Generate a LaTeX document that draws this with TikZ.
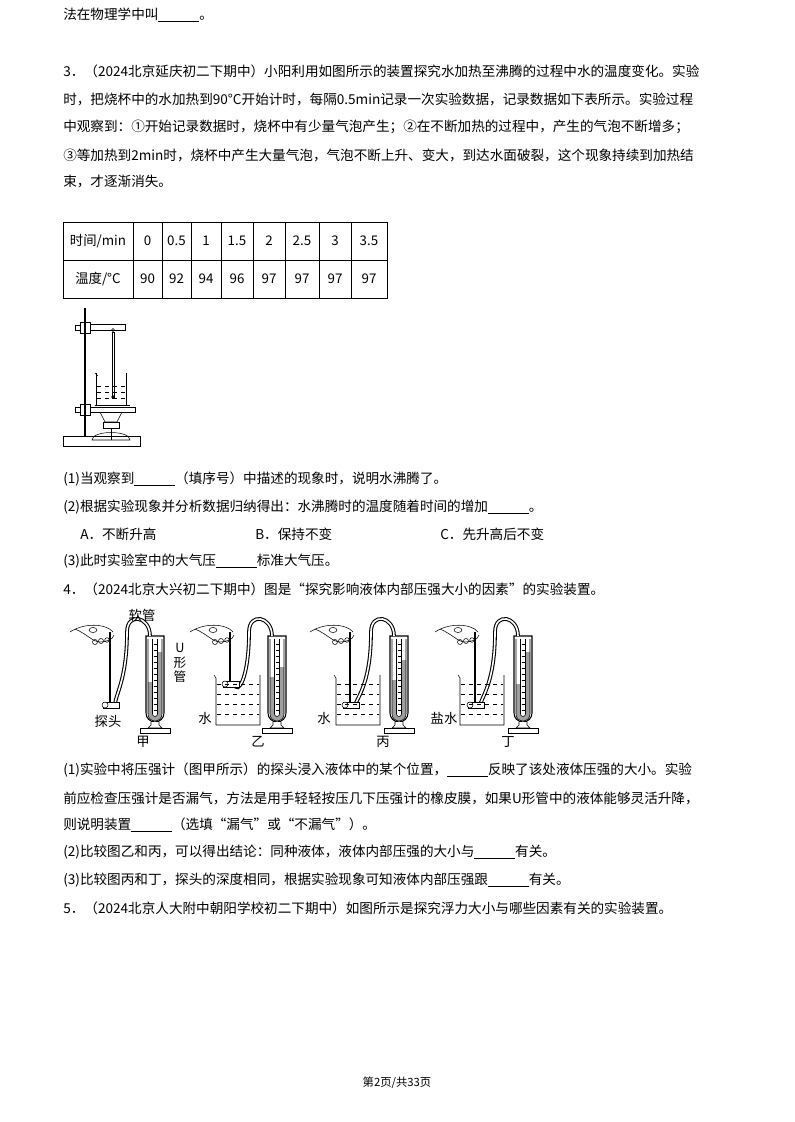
\documentclass[tikz,border=0pt]{standalone}
\usepackage{fontspec}
\setmainfont{Noto Sans CJK SC}
\begin{document}
\begin{tikzpicture}[x=0.75pt,y=-0.75pt,
  txt/.style={anchor=west,inner sep=0pt,font=\fontsize{10.2pt}{12pt}\selectfont},
  lab/.style={inner sep=0pt,font=\fontsize{10pt}{12pt}\selectfont}]
\useasboundingbox (0,0) rectangle (794,1122);
\newcommand\bl{\underline{\hspace{3em}}}
\node[txt] (l1) at (63,15) {法在物理学中叫\bl{}。};
\node[txt] (l2) at (63,71) {3．（2024北京延庆初二下期中）小阳利用如图所示的装置探究水加热至沸腾的过程中水的温度变化。实验};
\node[txt] (l3) at (63,99) {时，把烧杯中的水加热到90°C开始计时，每隔0.5min记录一次实验数据，记录数据如下表所示。实验过程};
\node[txt] (l4) at (63,127) {中观察到：①开始记录数据时，烧杯中有少量气泡产生；②在不断加热的过程中，产生的气泡不断增多；};
\node[txt] (l5) at (63,155) {③等加热到2min时，烧杯中产生大量气泡，气泡不断上升、变大，到达水面破裂，这个现象持续到加热结};
\node[txt] (l6) at (63,182) {束，才逐渐消失。};
% table
\draw[line width=0.6pt] (63,222) rectangle (387,298);
\draw[line width=0.6pt] (63,260) -- (387,260);
\foreach \x in {133,162,191,221,253,285,319,351}{\draw[line width=0.6pt] (\x,222)--(\x,298);}
\node[lab] (t0) at (98,241) {时间/min};
\node[lab] (t1) at (98,279) {温度/°C};
\foreach \a/\b/\v/\w in {133/162/0/90,162/191/0.5/92,191/221/1/94,221/253/1.5/96,253/285/2/97,285/319/2.5/97,319/351/3/97,351/387/3.5/97}{
  \node[lab] at ({(\a+\b)/2},241) {\v};
  \node[lab] at ({(\a+\b)/2},279) {\w};}
% stand figure
\draw[line width=1.2pt] (85,308) -- (85,440);
\draw[fill=white] (63,436) rectangle (140,446);
\draw (75,325) rectangle (80,330); \draw (80,322) rectangle (90,333);
\draw (90,324) rectangle (125,330);
\draw (113,330) circle (1.5);
\draw (112,332) rectangle (114,398); \fill (113,397) circle (1.8);
\draw (96,373) -- (96,405) -- (126,405) -- (126,373);
\draw (95,373) -- (98,376);
\foreach \yy in {386,392,398}{\draw[dashed] (97,\yy) -- (125,\yy);}
\draw (75,407) rectangle (80,412); \draw (80,404) rectangle (90,415);
\draw (90,407) rectangle (135,412);
\draw (95,405) -- (130,405);
\draw (100,412) -- (105,422) -- (117,422) -- (122,412);
\draw (103,422) rectangle (119,428);
\draw (92,440) .. controls (92,430) and (130,430) .. (130,440) -- cycle;
\draw (111,428) -- (111,440);
% questions
\node[txt] (q1) at (63,479) {(1)当观察到\bl{}（填序号）中描述的现象时，说明水沸腾了。};
\node[txt] (q2) at (63,507) {(2)根据实验现象并分析数据归纳得出：水沸腾时的温度随着时间的增加\bl{}。};
\node[txt] (qa) at (80,534) {A．不断升高};
\node[txt] (qb) at (255,534) {B．保持不变};
\node[txt] (qc) at (440,534) {C．先升高后不变};
\node[txt] (q3) at (63,561) {(3)此时实验室中的大气压\bl{}标准大气压。};
\node[txt] (p4) at (63,589) {4．（2024北京大兴初二下期中）图是“探究影响液体内部压强大小的因素”的实验装置。};
% gauges: #1 U centre x, #2 probe x, #3 probe y, #4 left level, #5 right level, #6 beaker left (0 none)
\newcommand\gauge[6]{
  \begin{scope}[shift={(#1,722)}]
   \draw[line width=0.8pt] (-9,-86) -- (-9,-9) arc (180:0:9) -- (9,-86) -- cycle;
   \fill[gray!75] (-7,#4) -- (-7,-8) arc (180:0:7) -- (7,#5) -- (2.5,#5) -- (2.5,-8) arc (0:180:2.5) -- (-2.5,#4) -- cycle;
   \draw (-7,-83) -- (-7,-8) arc (180:0:7) -- (7,-83);
   \draw (-2.5,-83) -- (-2.5,-8) arc (180:0:2.5) -- (2.5,-83);
   \foreach \k in {-78,-72,...,-12}{\draw[line width=0.3pt] (-1.5,\k) -- (1.5,\k);}
   \draw[fill=white] (-4,0) -- (-4,3) -- (-7,6) -- (7,6) -- (4,3) -- (4,0);
   \draw[fill=white] (-15,6) rectangle (15,11);
  \end{scope}
  \draw[line width=0.8pt,double=white,double distance=1.2pt] (#1-5,636) .. controls (#1-5,616) and (#1-28,612) .. (#1-28,632) .. controls (#1-28,680) and (#1-40,695) .. (#2+10,#3);
  \draw[fill=white] (#2-2,#3-3) rectangle (#2+14,#3+3);
  \draw[fill=white] (#2,#3) circle (3);
  \draw[line width=1pt] (#2+5,#3-2) -- (#2+5,632);
  \draw (#2+8,632) .. controls (#2+2,624) and (#2-20,622) .. (#2-35,632)
        (#2-30,629) .. controls (#2-18,634) and (#2-12,642) .. (#2-5,642)
        .. controls (#2,642) and (#2+8,640) .. (#2+9,635);
  \draw (#2-12,630) ellipse (4 and 2.5);
  \draw (#2-10,642) circle (2.5) (#2-4,641) circle (2.5) (#2+2,640) circle (2.3);
  \ifnum#6>0
   \draw (#6,675) -- (#6+2,678) -- (#6+2,725) -- (#6+46,725) -- (#6+46,675);
   \foreach \yy in {684,694,704,714}{\draw[dashed,line width=0.4pt] (#6+3,\yy) -- (#6+45,\yy);}
  \fi
}
\gauge{155}{105}{705}{-40}{-70}{0}
\gauge{277}{225}{684}{-45}{-55}{214}
\gauge{399}{345}{705}{-42}{-62}{334}
\gauge{523}{470}{705}{-38}{-70}{458}
\node[lab] (s1) at (142,615) {软管};
\node[lab,align=center,font=\fontsize{9.5pt}{11pt}\selectfont] (s2) at (180,663) {U\\形\\管};
\node[lab] (s3) at (108,721) {探头};
\node[lab] (s4) at (143,742) {甲};
\node[lab] (s5) at (205,718) {水};
\node[lab] (s6) at (258,742) {乙};
\node[lab] (s7) at (324,718) {水};
\node[lab] (s8) at (383,742) {丙};
\node[lab] (s9) at (444,718) {盐水};
\node[lab] (s10) at (508,742) {丁};
\node[txt] (r1) at (63,770) {(1)实验中将压强计（图甲所示）的探头浸入液体中的某个位置，\bl{}反映了该处液体压强的大小。实验};
\node[txt] (r2) at (63,798) {前应检查压强计是否漏气，方法是用手轻轻按压几下压强计的橡皮膜，如果U形管中的液体能够灵活升降，};
\node[txt] (r3) at (63,825) {则说明装置\bl{}（选填“漏气”或“不漏气”）。};
\node[txt] (r4) at (63,852) {(2)比较图乙和丙，可以得出结论：同种液体，液体内部压强的大小与\bl{}有关。};
\node[txt] (r5) at (63,880) {(3)比较图丙和丁，探头的深度相同，根据实验现象可知液体内部压强跟\bl{}有关。};
\node[txt] (r6) at (63,908) {5．（2024北京人大附中朝阳学校初二下期中）如图所示是探究浮力大小与哪些因素有关的实验装置。};
\node[lab,font=\fontsize{8.5pt}{10pt}\selectfont] (ft) at (397,1083) {第2页/共33页};
\end{tikzpicture}
\end{document}
